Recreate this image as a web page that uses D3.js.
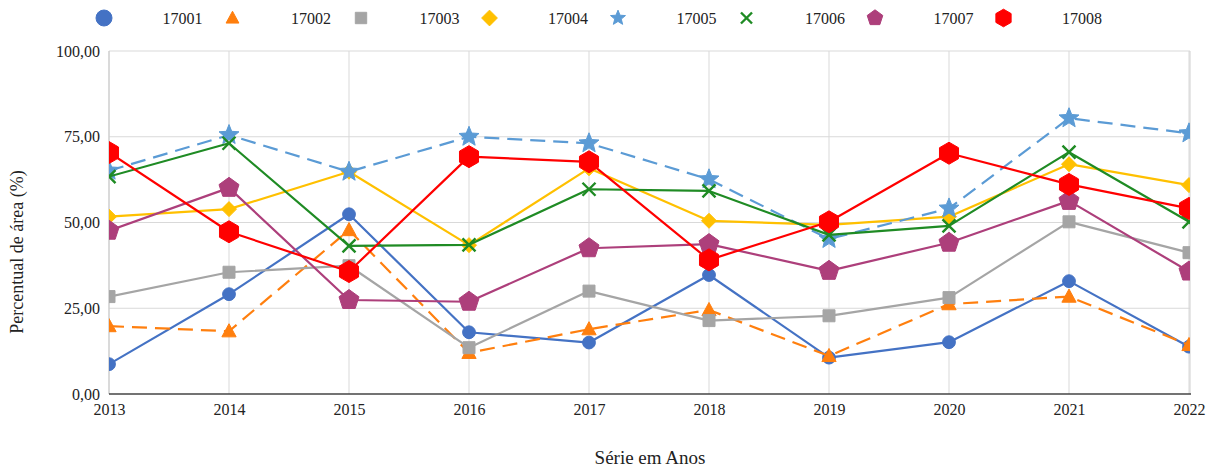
<!DOCTYPE html>
<html>
<head>
<meta charset="utf-8">
<script src="https://cdn.jsdelivr.net/npm/d3@7/dist/d3.min.js"></script>
<style>
  html, body { margin: 0; padding: 0; background: #fff; }
  svg, svg text { font-family: "Liberation Serif", "DejaVu Serif", serif !important; }
</style>
</head>
<body>
<svg id="chart" width="1216" height="469"></svg>
<script>
// ---- data ----
const years = ["2013","2014","2015","2016","2017","2018","2019","2020","2021","2022"];
const seriesNames = ["17001","17002","17003","17004","17005","17006","17007","17008"];
const s17001 = [8.7, 29.1, 52.4, 18.0, 15.0, 34.7, 10.6, 15.1, 32.9, 13.8];
const s17002 = [19.8, 18.3, 47.8, 12.0, 18.9, 24.5, 11.1, 26.2, 28.4, 14.3];
const s17003 = [28.4, 35.5, 37.4, 13.5, 30.0, 21.4, 22.8, 28.1, 50.2, 41.2];
const s17004 = [51.7, 53.9, 64.8, 43.4, 65.8, 50.5, 49.3, 51.7, 67.0, 60.9];
const s17005 = [65.1, 75.5, 64.8, 75.0, 73.1, 62.6, 45.2, 54.1, 80.4, 76.0];
const s17006 = [63.4, 73.1, 43.2, 43.5, 59.7, 59.2, 46.4, 49.0, 70.5, 50.2];
const s17007 = [47.6, 60.1, 27.4, 26.9, 42.5, 43.7, 35.9, 44.1, 56.3, 35.7];
const s17008 = [70.4, 47.3, 35.7, 69.2, 67.7, 39.1, 50.2, 70.2, 61.1, 54.1];
const yTicks = [0, 25, 50, 75, 100];
const xTitle = "Série em Anos";
const yTitle = "Percentual de área (%)";

const seriesValues = [s17001, s17002, s17003, s17004, s17005, s17006, s17007, s17008];
const colors = ["#4472C4", "#FF7F0E", "#A5A5A5", "#FFC000", "#5B9BD5", "#1F8B24", "#AD3F7B", "#FF0000"];
const shapes = ["circle", "triangle", "square", "diamond", "star", "x", "pentagon", "hexagon"];
const dashed = [false, true, false, false, true, false, false, false];

// ---- layout ----
const FONT = '"Liberation Serif", "DejaVu Serif", serif';
const svg = d3.select("#chart");
const L = 109, R = 1190, T = 51, B = 394;
const x = d3.scalePoint().domain(years).range([L, 1189]);
const y = d3.scaleLinear().domain([0, 100]).range([B, T]);
const fmt = v => d3.format(".2f")(v).replace(".", ",");

// clip
svg.append("defs").append("clipPath").attr("id", "plotclip")
  .append("rect").attr("x", L).attr("y", T - 20).attr("width", R - L).attr("height", B - T + 20);

// gridlines
const grid = svg.append("g");
grid.selectAll("line.h").data(yTicks.filter(d => d > 0)).join("line")
  .attr("x1", L).attr("x2", R).attr("y1", d => y(d)).attr("y2", d => y(d))
  .attr("stroke", "#d9d9d9").attr("stroke-width", 1);
grid.selectAll("line.v").data(years).join("line")
  .attr("x1", d => x(d)).attr("x2", d => x(d)).attr("y1", T).attr("y2", B)
  .attr("stroke", "#d9d9d9").attr("stroke-width", 1);
grid.append("line").attr("x1", R).attr("x2", R).attr("y1", T).attr("y2", B)
  .attr("stroke", "#d0d0d0").attr("stroke-width", 1);
grid.append("line").attr("x1", L).attr("x2", L).attr("y1", T).attr("y2", B)
  .attr("stroke", "#c8c8c8").attr("stroke-width", 1);

// y axis labels
const yAxis = svg.append("g").attr("transform", `translate(${L},0)`)
  .call(d3.axisLeft(y).tickValues(yTicks).tickFormat(fmt).tickSize(0).tickPadding(9));
yAxis.attr("font-family", FONT);
yAxis.select(".domain").remove();
yAxis.selectAll("text").attr("font-size", 16).attr("fill", "#222").style("font-family", FONT);

// x axis
const xAxis = svg.append("g").attr("transform", `translate(0,${B})`)
  .call(d3.axisBottom(x).tickSize(0).tickPadding(10));
xAxis.attr("font-family", FONT);
xAxis.select(".domain").remove();
xAxis.selectAll("text").attr("font-size", 16).attr("fill", "#222").style("font-family", FONT);
svg.append("line").attr("x1", L).attr("x2", R + 1).attr("y1", B).attr("y2", B)
  .attr("stroke", "#444").attr("stroke-width", 1.6);

// titles
svg.append("text").attr("x", 650).attr("y", 464).attr("text-anchor", "middle")
  .attr("font-size", 19).attr("fill", "#222").style("font-family", FONT).text(xTitle);
svg.append("text").attr("transform", "translate(23,252) rotate(-90)").attr("text-anchor", "middle")
  .attr("font-size", 18).attr("fill", "#222").style("font-family", FONT).text(yTitle);

// ---- marker shapes ----
function polygon(n, r, rot) {
  const pts = [];
  for (let i = 0; i < n; i++) {
    const a = rot + i * 2 * Math.PI / n;
    pts.push([r * Math.cos(a), r * Math.sin(a)]);
  }
  return "M" + pts.map(p => p.join(",")).join("L") + "Z";
}
function star(ro, ri) {
  const pts = [];
  for (let i = 0; i < 10; i++) {
    const r = i % 2 === 0 ? ro : ri;
    const a = -Math.PI / 2 + i * Math.PI / 5;
    pts.push([r * Math.cos(a), r * Math.sin(a)]);
  }
  return "M" + pts.map(p => p.join(",")).join("L") + "Z";
}
function shapePath(shape, k) {
  switch (shape) {
    case "circle": { const r = 6.4 * k; return `M${r},0A${r},${r} 0 1,1 ${-r},0A${r},${r} 0 1,1 ${r},0Z`; }
    case "triangle": { const s = 7.5 * k; return `M0,${-s}L${s * 0.95},${s * 0.75}L${-s * 0.95},${s * 0.75}Z`; }
    case "square": { const s = 6 * k; return `M${-s},${-s}H${s}V${s}H${-s}Z`; }
    case "diamond": { const s = 7.5 * k; return `M0,${-s}L${s},0L0,${s}L${-s},0Z`; }
    case "star": return star(10.5 * k, 4.6 * k);
    case "x": { const s = 6.5 * k; return `M${-s},${-s}L${s},${s}M${s},${-s}L${-s},${s}`; }
    case "pentagon": return polygon(5, 10.5 * k, -Math.PI / 2);
    case "hexagon": return polygon(6, 11 * k, -Math.PI / 2);
  }
}
function drawMarker(g, shape, color, k) {
  const p = g.append("path").attr("d", shapePath(shape, k));
  if (shape === "x") p.attr("fill", "none").attr("stroke", color).attr("stroke-width", 2.4);
  else p.attr("fill", color).attr("stroke", color).attr("stroke-width", 1);
}

// ---- series ----
const plot = svg.append("g").attr("clip-path", "url(#plotclip)");
const line = d3.line().x((d, i) => x(years[i])).y(d => y(d));
seriesValues.forEach((vals, si) => {
  const g = plot.append("g");
  g.append("path").datum(vals).attr("d", line)
    .attr("fill", "none").attr("stroke", colors[si]).attr("stroke-width", 2.2)
    .attr("stroke-linejoin", "round")
    .attr("stroke-dasharray", dashed[si] ? "15,8" : null);
  vals.forEach((v, i) => {
    const m = g.append("g").attr("transform", `translate(${x(years[i])},${y(v)})`);
    drawMarker(m, shapes[si], colors[si], 1);
  });
});

// ---- legend ----
const legendScale = [1.25, 0.9, 0.95, 1.05, 0.75, 0.85, 0.78, 0.8];
const legend = svg.append("g");
seriesNames.forEach((name, i) => {
  const cx = 104 + i * 128.5;
  const m = legend.append("g").attr("transform", `translate(${cx},18)`);
  drawMarker(m, shapes[i], colors[i], legendScale[i]);
  legend.append("text").attr("x", cx + 58.5).attr("y", 23.5)
    .attr("font-size", 16).attr("fill", "#222").style("font-family", FONT).text(name);
});
</script>
</body>
</html>
